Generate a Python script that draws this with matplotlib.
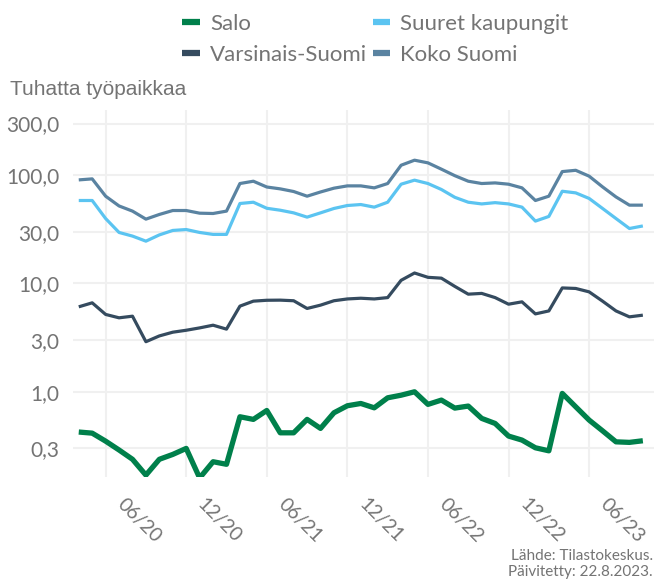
import matplotlib
matplotlib.use("Agg")
import matplotlib.pyplot as plt
import matplotlib.transforms as mtransforms
from matplotlib.lines import Line2D
from matplotlib.ticker import FixedLocator, NullFormatter, NullLocator

# monthly data 01/2020 - 07/2023, thousands of jobs
months = list(range(43))

salo = [0.425, 0.415, 0.35, 0.29, 0.238, 0.17, 0.238, 0.264, 0.30, 0.16,
        0.226, 0.214, 0.588, 0.556, 0.672, 0.418, 0.418, 0.556, 0.459, 0.64,
        0.743, 0.78, 0.711, 0.88, 0.93, 1.0, 0.765, 0.838, 0.707, 0.738,
        0.568, 0.51, 0.39, 0.358, 0.304, 0.285, 0.966, 0.727, 0.548, 0.436,
        0.345, 0.341, 0.353]

suuret = [58.4, 58.4, 39.8, 29.6, 27.4, 24.6, 28.1, 30.9, 31.5, 29.6,
          28.4, 28.4, 54.8, 56.3, 49.5, 47.5, 44.9, 41.0, 44.9, 49.3,
          52.5, 53.6, 50.7, 56.3, 82.6, 90.0, 83.8, 73.8, 62.5, 56.3,
          54.3, 55.8, 54.3, 50.7, 37.7, 41.6, 71.1, 68.7, 61.0, 49.3,
          39.8, 32.2, 34.0]

varsinais = [6.09, 6.63, 5.18, 4.82, 4.99, 2.9, 3.28, 3.55, 3.70, 3.89,
             4.12, 3.79, 6.18, 6.87, 7.0, 7.02, 6.93, 5.88, 6.31, 6.93,
             7.2, 7.31, 7.2, 7.41, 10.7, 12.5, 11.4, 11.2, 9.4, 7.97,
             8.1, 7.41, 6.44, 6.77, 5.24, 5.58, 9.1, 9.0, 8.37, 6.87,
             5.58, 4.92, 5.1]

koko = [90.5, 92.5, 64.0, 52.0, 46.6, 39.3, 43.4, 47.2, 47.2, 44.6,
        44.3, 46.6, 83.8, 88.0, 77.8, 74.8, 70.7, 64.0, 70.0, 75.9,
        79.7, 79.7, 76.4, 83.8, 123.6, 137.6, 130.0, 113.7, 99.0, 88.0,
        83.8, 84.9, 82.6, 76.4, 58.4, 64.0, 108.0, 111.0, 98.0, 78.0,
        63.0, 52.9, 52.9]

yticks = [0.3, 1.0, 3.0, 10.0, 30.0, 100.0, 300.0]
ytick_labels = ["0,3", "1,0", "3,0", "10,0", "30,0", "100,0", "300,0"]
xticks = [5, 11, 17, 23, 29, 35, 41]
xtick_labels = ["06/20", "12/20", "06/21", "12/21", "06/22", "12/22", "06/23"]
xgrid = list(range(2, 43, 3))

names = ["Salo", "Varsinais-Suomi", "Suuret kaupungit", "Koko Suomi"]
colors = {"Salo": "#00804B", "Varsinais-Suomi": "#354B5F",
          "Suuret kaupungit": "#5BC4F1", "Koko Suomi": "#5A83A1"}

FONT = "Lato"
GREY = "#747474"

fig = plt.figure(figsize=(6.54, 5.79), dpi=100)
ax = fig.add_axes([0.1116, 0.176, 0.8884, 0.634])

ax.plot(months, koko, color=colors["Koko Suomi"], lw=2.3, solid_capstyle="butt")
ax.plot(months, suuret, color=colors["Suuret kaupungit"], lw=2.3, solid_capstyle="butt")
ax.plot(months, varsinais, color=colors["Varsinais-Suomi"], lw=2.3, solid_capstyle="butt")
ax.plot(months, salo, color=colors["Salo"], lw=3.8, solid_capstyle="butt")

ax.set_yscale("log")
ax.set_ylim(0.163, 400)
ax.set_xlim(-0.43, 42.83)

ax.yaxis.set_major_locator(FixedLocator(yticks))
ax.yaxis.set_minor_locator(NullLocator())
ax.yaxis.set_minor_formatter(NullFormatter())
ax.set_yticklabels(ytick_labels)
ax.set_xticks(xticks)
ax.set_xticklabels(xtick_labels, rotation=-45, ha="center", va="top")
ax.set_xticks(xgrid, minor=True)

ax.grid(True, which="major", axis="y", color="#F0F0F0", lw=1.5)
ax.grid(True, which="minor", axis="x", color="#F0F0F0", lw=1.5)
ax.set_axisbelow(True)
for s in ax.spines.values():
    s.set_visible(False)
ax.tick_params(axis="both", which="both", length=0)
ax.tick_params(axis="y", pad=10, labelsize=15, labelcolor=GREY)
ax.tick_params(axis="x", pad=13, labelsize=14, labelcolor=GREY)
shift = mtransforms.ScaledTranslation(-5 / 72, 0, fig.dpi_scale_trans)
for lab in ax.get_xticklabels():
    lab.set_family(FONT)
    lab.set_transform(lab.get_transform() + shift)
for lab in ax.get_yticklabels():
    lab.set_family(FONT)

fig.text(0.015, 0.845, "Tuhatta työpaikkaa", family="Liberation Sans",
         fontsize=15, color=GREY, va="center", ha="left")

handles = [Line2D([], [], color=colors[n], lw=4.5, solid_capstyle="butt") for n in names]
leg = fig.legend(handles, names, loc="center", bbox_to_anchor=(0.574, 0.932),
                 ncol=2, frameon=False, handlelength=0.8, handletextpad=0.45,
                 columnspacing=0.25, labelspacing=0.5,
                 prop={"family": FONT, "size": 16})
for t in leg.get_texts():
    t.set_color(GREY)

fig.text(0.998, 0.04, "Lähde: Tilastokeskus.", ha="right", va="center",
         family=FONT, fontsize=11, color=GREY)
fig.text(0.998, 0.012, "Päivitetty: 22.8.2023.", ha="right", va="center",
         family=FONT, fontsize=11, color=GREY)

fig.savefig("out.png", dpi=100)
